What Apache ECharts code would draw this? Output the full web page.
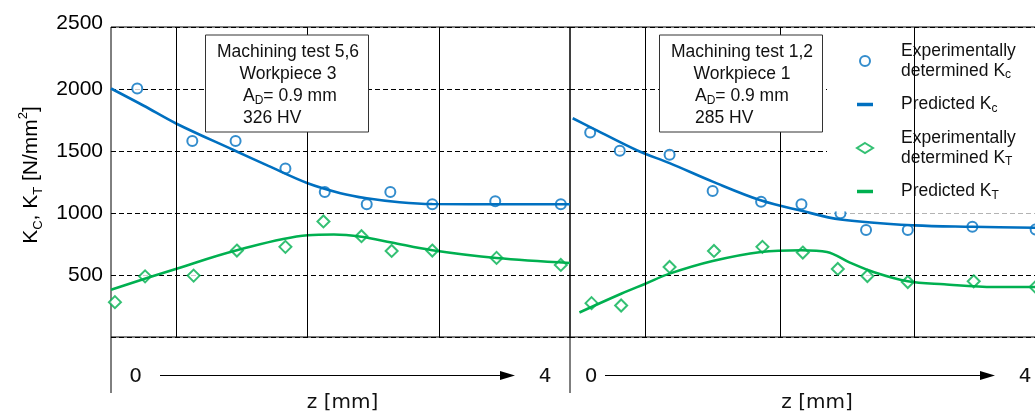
<!DOCTYPE html>
<html>
<head>
<meta charset="utf-8">
<script src="https://cdn.jsdelivr.net/npm/echarts@6/dist/echarts.min.js"></script>
<style>
  html, body { margin: 0; padding: 0; background: #fff; }
  #app { width: 1035px; height: 412px; }
</style>
</head>
<body>
<div id="app"></div>
<script>
// y axis (N/mm2)
const yMin = 0;
const yMax = 2500;
const yStep = 500;

// left panel: machining test 5,6 / workpiece 3  (z in mm)
const p1KcExpZ = [0.20, 0.62, 0.95, 1.33, 1.63, 1.95, 2.13, 2.45, 2.93, 3.43];
const p1KcExp = [2004, 1580, 1580, 1359, 1170, 1070, 1170, 1070, 1094, 1070];
const p1KcPredZ = [0, 0.25, 0.5, 0.93, 1.2, 1.5, 1.75, 1.95, 2.2, 2.45, 3.0, 3.5];
const p1KcPred = [2004, 1865, 1720, 1510, 1380, 1240, 1160, 1119, 1087, 1072, 1070, 1070];
const p1KtExpZ = [0.03, 0.26, 0.63, 0.96, 1.33, 1.62, 1.91, 2.14, 2.45, 2.94, 3.43];
const p1KtExp = [281, 489, 495, 697, 727, 932, 813, 694, 697, 638, 581];
const p1KtPredZ = [0, 0.5, 0.96, 1.5, 1.7, 1.91, 2.14, 2.45, 2.94, 3.5];
const p1KtPred = [381, 551, 700, 821, 827, 808, 762, 700, 637, 597];
const p1Splits = [0.5, 1.5, 2.5];

// right panel: machining test 1,2 / workpiece 1
const p2KcExpZ = [0.15, 0.37, 0.74, 1.06, 1.42, 1.72, 2.01, 2.20, 2.51, 2.99, 3.46];
const p2KcExp = [1650, 1502, 1469, 1178, 1091, 1070, 997, 862, 862, 889, 867];
const p2KcPredZ = [0.02, 0.15, 0.5, 0.74, 1.06, 1.41, 1.72, 2.01, 2.56, 2.99, 3.5];
const p2KcPred = [1764, 1693, 1504, 1402, 1253, 1105, 1018, 948, 900, 889, 880];
const p2KtExpZ = [0.16, 0.38, 0.74, 1.07, 1.43, 1.73, 1.99, 2.21, 2.51, 3.0, 3.46];
const p2KtExp = [273, 254, 565, 694, 727, 681, 549, 492, 443, 449, 403];
const p2KtPredZ = [0.07, 0.38, 0.56, 0.74, 1.06, 1.42, 1.72, 1.91, 2.08, 2.26, 2.51, 2.78, 3.15, 3.5];
const p2KtPred = [198, 349, 430, 511, 613, 686, 700, 686, 600, 522, 449, 425, 403, 403];
const p2Splits = [0.56, 1.56, 2.56];

const boxText1 = ['Machining test 5,6', 'Workpiece 3', 'A{sub|D}= 0.9 mm', '326 HV'];
const boxText2 = ['Machining test 1,2', 'Workpiece 1', 'A{sub|D}= 0.9 mm', '285 HV'];

const BLUE = '#0070c0';
const GREEN = '#00b050';
const FONT = 'Liberation Sans';
const NARROW = 'DejaVu Sans';
const DASH_ICON = 'path://M0,0 H16 V3.5 H0 Z';

const pair = (zs, vs) => zs.map((z, i) => [z, vs[i]]);

function panelSeries(idx, kcExpZ, kcExp, kcPredZ, kcPred, ktExpZ, ktExp, ktPredZ, ktPred, splits) {
  return [
    {
      name: 'Experimentally determined Kc',
      type: 'scatter',
      xAxisIndex: idx,
      yAxisIndex: idx,
      symbol: 'emptyCircle',
      symbolSize: 10,
      itemStyle: { color: BLUE, borderWidth: 1.6 },
      data: pair(kcExpZ, kcExp),
      z: 3,
      markLine: {
        silent: true,
        symbol: ['none', 'none'],
        label: { show: false },
        lineStyle: { color: '#000', width: 1, type: 'solid' },
        data: splits.map(z => ({ xAxis: z }))
      }
    },
    {
      name: 'Predicted Kc',
      type: 'line',
      xAxisIndex: idx,
      yAxisIndex: idx,
      smooth: 0.35,
      showSymbol: false,
      symbol: 'none',
      lineStyle: { color: BLUE, width: 2.6 },
      itemStyle: { color: BLUE },
      data: pair(kcPredZ, kcPred),
      z: 4
    },
    {
      name: 'Experimentally determined KT',
      type: 'scatter',
      xAxisIndex: idx,
      yAxisIndex: idx,
      symbol: 'emptyDiamond',
      symbolSize: 12,
      itemStyle: { color: GREEN, borderWidth: 1.6 },
      data: pair(ktExpZ, ktExp),
      z: 3
    },
    {
      name: 'Predicted KT',
      type: 'line',
      xAxisIndex: idx,
      yAxisIndex: idx,
      smooth: 0.35,
      showSymbol: false,
      symbol: 'none',
      lineStyle: { color: GREEN, width: 2.6 },
      itemStyle: { color: GREEN },
      data: pair(ktPredZ, ktPred),
      z: 4
    }
  ];
}

const legendText = {
  'Experimentally determined Kc': 'Experimentally\ndetermined K{sub|c}',
  'Predicted Kc': 'Predicted K{sub|c}',
  'Experimentally determined KT': 'Experimentally\ndetermined K{sub|T}',
  'Predicted KT': 'Predicted K{sub|T}'
};

function yAxisFor(idx, withLabels) {
  return {
    gridIndex: idx,
    type: 'value',
    min: yMin,
    max: yMax,
    interval: yStep,
    axisLine: { show: false },
    axisTick: { show: false },
    axisLabel: {
      show: withLabels,
      showMinLabel: false,
      margin: 8,
      fontSize: 21,
      fontFamily: FONT,
      color: '#000',
      formatter: v => (v === yMax ? '{top|' + v + '}' : String(v)),
      rich: {
        top: { fontSize: 21, fontFamily: FONT, color: '#000', padding: [0, 0, 8, 0] }
      }
    },
    splitLine: { lineStyle: { color: '#000', width: 1, type: [5, 3] } },
    name: withLabels ? 'K{sub|C}, K{sub|T} [N/mm{sup|2}]' : '',
    nameLocation: 'middle',
    nameRotate: 90,
    nameGap: 66,
    nameTextStyle: {
      fontSize: 21,
      fontFamily: FONT,
      color: '#000',
      lineHeight: 28,
      padding: [0, 0, 0, 14],
      rich: {
        sub: { fontSize: 13, fontFamily: FONT, color: '#000', lineHeight: 18, verticalAlign: 'bottom' },
        sup: { fontSize: 13, fontFamily: FONT, color: '#000', lineHeight: 14, verticalAlign: 'top' }
      }
    }
  };
}

const subRich = { sub: { fontSize: 12, fontFamily: FONT, fill: '#111', lineHeight: 13, verticalAlign: 'bottom' } };

function infoBox(x, cx, lx, lines) {
  const txt = (t, px, py, align) => ({
    type: 'text',
    z: 11,
    x: px,
    y: py,
    style: {
      text: t,
      fontSize: 17.5,
      fontFamily: FONT,
      fill: '#111',
      align: align,
      textAlign: align,
      verticalAlign: 'middle',
      textVerticalAlign: 'middle',
      lineHeight: 22,
      rich: subRich
    }
  });
  return [
    {
      type: 'rect',
      z: 10,
      shape: { x: x, y: 35, width: 163, height: 97 },
      style: { fill: '#fff', stroke: '#333', lineWidth: 1 }
    },
    txt(lines[0], cx, 52, 'center'),
    txt(lines[1], cx, 74, 'center'),
    txt(lines[2], lx, 96, 'left'),
    txt(lines[3], lx, 118, 'left')
  ];
}

function zArrow(x0, x1, labelX0, labelX4, nameX) {
  const t = (s, px, py) => ({
    type: 'text',
    x: px,
    y: py,
    style: {
      text: s,
      fontSize: 20,
      fontFamily: NARROW,
      fill: '#111',
      align: 'center',
      textAlign: 'center',
      verticalAlign: 'middle',
      textVerticalAlign: 'middle'
    }
  });
  return [
    { type: 'line', shape: { x1: x0, y1: 375.5, x2: x1 - 8, y2: 375.5 }, style: { stroke: '#000', lineWidth: 1 } },
    { type: 'polygon', shape: { points: [[x1 - 15, 371], [x1, 375.5], [x1 - 15, 380]] }, style: { fill: '#000' } },
    t('0', labelX0, 377),
    t('4', labelX4, 377),
    t('z [mm]', nameX, 403)
  ];
}

const myChart = echarts.init(document.getElementById('app'));
const option = {
  animation: false,
  textStyle: { fontFamily: FONT },
  grid: [
    { left: 111, top: 27, width: 459, height: 310, show: true, borderColor: '#000', borderWidth: 1, backgroundColor: 'transparent', outerBoundsMode: 'none' },
    { left: 570, top: 27, width: 471, height: 310, show: true, borderColor: '#000', borderWidth: 1, backgroundColor: 'transparent', outerBoundsMode: 'none' }
  ],
  xAxis: [
    { gridIndex: 0, type: 'value', min: 0, max: 3.5, show: false },
    { gridIndex: 1, type: 'value', min: 0, max: 3.5, show: false }
  ],
  yAxis: [yAxisFor(0, true), yAxisFor(1, false)],
  legend: {
    orient: 'vertical',
    left: 827,
    top: 28,
    padding: [13, 80, 10, 29],
    itemGap: 13.5,
    itemWidth: 16,
    itemHeight: 10,
    backgroundColor: '#fff',
    selectedMode: false,
    data: [
      { name: 'Experimentally determined Kc' },
      { name: 'Predicted Kc', icon: DASH_ICON },
      { name: 'Experimentally determined KT' },
      { name: 'Predicted KT', icon: DASH_ICON }
    ],
    formatter: name => legendText[name],
    textStyle: {
      fontSize: 17.5,
      fontFamily: FONT,
      color: '#111',
      lineHeight: 20,
      padding: [0, 0, 0, 23],
      rich: {
        sub: { fontSize: 12, fontFamily: FONT, color: '#111', lineHeight: 13, verticalAlign: 'bottom' }
      }
    }
  },
  series: [
    ...panelSeries(0, p1KcExpZ, p1KcExp, p1KcPredZ, p1KcPred, p1KtExpZ, p1KtExp, p1KtPredZ, p1KtPred, p1Splits),
    ...panelSeries(1, p2KcExpZ, p2KcExp, p2KcPredZ, p2KcPred, p2KtExpZ, p2KtExp, p2KtPredZ, p2KtPred, p2Splits)
  ],
  graphic: [
    // faded part of the 1000 grid line behind the legend
    { type: 'rect', z: 1, silent: true, shape: { x: 827, y: 209, width: 210, height: 6 }, style: { fill: 'rgba(255,255,255,0.7)' } },
    ...infoBox(205.5, 288, 243, boxText1),
    ...infoBox(659.5, 742, 695, boxText2),
    { type: 'line', shape: { x1: 111, y1: 337, x2: 111, y2: 393 }, style: { stroke: '#000', lineWidth: 1 } },
    { type: 'line', shape: { x1: 570, y1: 337, x2: 570, y2: 393 }, style: { stroke: '#000', lineWidth: 1 } },
    ...zArrow(160, 515, 135.5, 545, 342.5),
    ...zArrow(605, 995, 591, 1025, 817)
  ]
};

myChart.setOption(option);
</script>
</body>
</html>
